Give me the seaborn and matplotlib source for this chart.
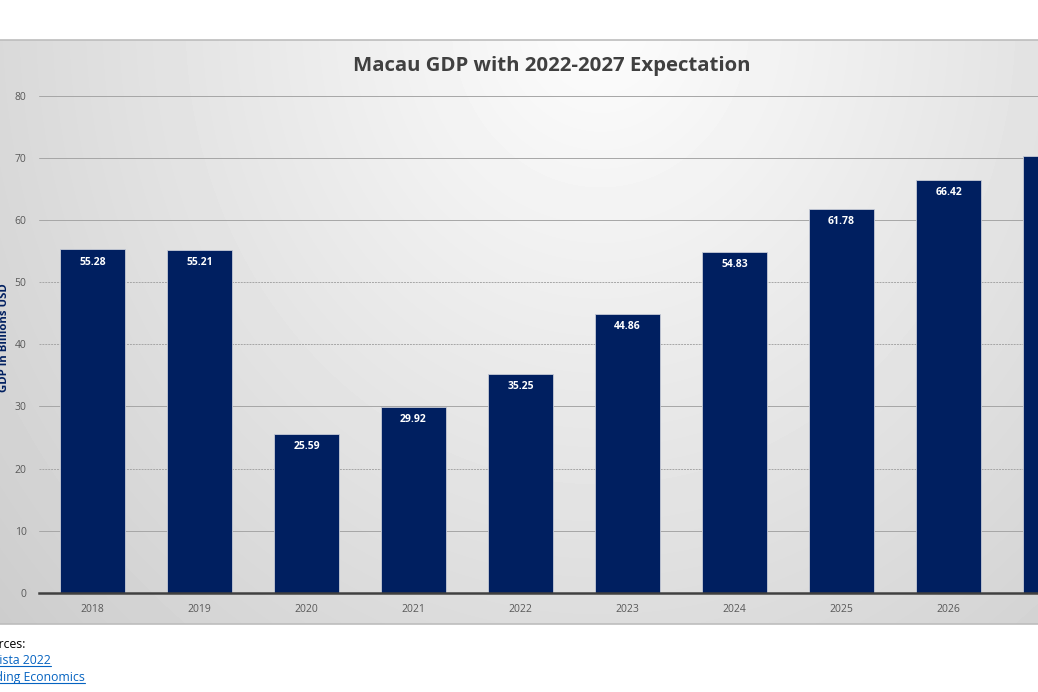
import numpy as np
import pandas as pd
import matplotlib
matplotlib.use("Agg")
import matplotlib.pyplot as plt
from matplotlib.lines import Line2D
import seaborn as sns

# data
years = ["2018", "2019", "2020", "2021", "2022", "2023", "2024", "2025", "2026", "2027"]
gdp = [55.28, 55.21, 25.59, 29.92, 35.25, 44.86, 54.83, 61.78, 66.42, 70.26]
y_ticks = [0, 10, 20, 30, 40, 50, 60, 70, 80]
source_lines = ["Sources:", "Statista 2022", "Trading Economics"]

NAVY = "#001f60"
W, H = 1038, 692

sns.set_style("white")
plt.rcParams["font.family"] = ["Open Sans", "DejaVu Sans"]

df = pd.DataFrame({"year": years, "gdp": gdp})

fig = plt.figure(figsize=(W / 100, H / 100), dpi=100)
fig.patch.set_facecolor("white")

# gray gradient chart box (screenshot of an office chart)
box_top, box_bot = 40, 624
bg = fig.add_axes([0, 1 - box_bot / H, 1, (box_bot - box_top) / H])
xx, yy = np.meshgrid(np.arange(W), np.arange(box_bot - box_top) + box_top)
dist = np.sqrt((xx - 600) ** 2 + 0.8 * (yy - 20) ** 2)
shade = np.clip(253 - 0.06 * dist, 198, 252) / 255
bg.imshow(shade, cmap="gray", vmin=0, vmax=1, aspect="auto", interpolation="bilinear")
bg.set_axis_off()
fig.add_artist(Line2D([0, 1], [1 - box_top / H] * 2, color="#bdbdbd", lw=1.2))
fig.add_artist(Line2D([0, 1], [1 - box_bot / H] * 2, color="#bdbdbd", lw=1.2))

# main plot area; it runs past the right edge, like the cropped reference
left_px, right_px = 39, 39 + 107 * 10
top_px, bot_px = 95.5, 593
ax = fig.add_axes([left_px / W, 1 - bot_px / H, (right_px - left_px) / W, (bot_px - top_px) / H])
ax.set_facecolor("none")

sns.barplot(data=df, x="year", y="gdp", color=NAVY, width=0.6, saturation=1,
            edgecolor="#c7cbd6", linewidth=0.6, ax=ax, zorder=3)

ax.set_xlim(-0.5, len(years) - 0.5)
ax.set_ylim(0, 80)
ax.set_yticks(y_ticks)

# only label categories whose centre lies inside the picture (the reference is cropped)
shown = [i for i in range(len(years)) if ax.transData.transform((i, 0))[0] + 20 < W]
for i in shown:
    v = gdp[i]
    ax.text(i, v - 1.2, f"{v:.2f}", ha="center", va="top", color="white",
            fontsize=7.5, fontweight="bold", zorder=4)
ax.set_xticks(range(len(years)))
ax.set_xticklabels([y if i in shown else "" for i, y in enumerate(years)])

for t in y_ticks[1:]:
    ls = (0, (2, 1)) if t in (20, 40, 50) else "-"
    ax.axhline(t, color="#a6a6a6", lw=0.7, ls=ls, zorder=1)

for s in ["top", "right", "left"]:
    ax.spines[s].set_visible(False)
ax.spines["bottom"].set_color("#404040")
ax.spines["bottom"].set_linewidth(1.8)
ax.spines["bottom"].set_zorder(5)

ax.tick_params(axis="x", which="major", length=0, pad=8, labelsize=7.5, labelcolor="#595959")
ax.tick_params(axis="y", length=0, pad=9, labelsize=7.5, labelcolor="#595959")
ax.set_xticks(np.arange(len(years)) - 0.5, minor=True)
ax.tick_params(axis="x", which="minor", length=4, width=1.5, color="#404040", direction="out")
ax.set_xlabel("")
ax.set_ylabel("")

fig.text(5 / W, 1 - 338 / H, "GDP in Billions USD", rotation=90, ha="center", va="center",
         fontsize=8.2, fontweight="bold", color=NAVY)

fig.text(552 / W, 1 - 66 / H, "Macau GDP with 2022-2027 Expectation", ha="center", va="center",
         fontsize=14.7, fontweight="bold", color="#404040")

# sources below the box, cut off on the left as in the reference
src_y = [645, 661, 678]
texts = []
for j, (line, ypx) in enumerate(zip(source_lines, src_y)):
    col = "black" if j == 0 else "#0563c1"
    texts.append(fig.text(-23 / W, 1 - ypx / H, line, ha="left", va="center",
                          fontsize=8.8, color=col))

fig.canvas.draw()
r = fig.canvas.get_renderer()
for t in texts[1:]:
    bb = t.get_window_extent(r).transformed(fig.transFigure.inverted())
    fig.add_artist(Line2D([bb.x0, bb.x1], [bb.y0 + 1.5 / H] * 2, color="#0563c1", lw=0.8))

fig.savefig("out.png", dpi=100)
